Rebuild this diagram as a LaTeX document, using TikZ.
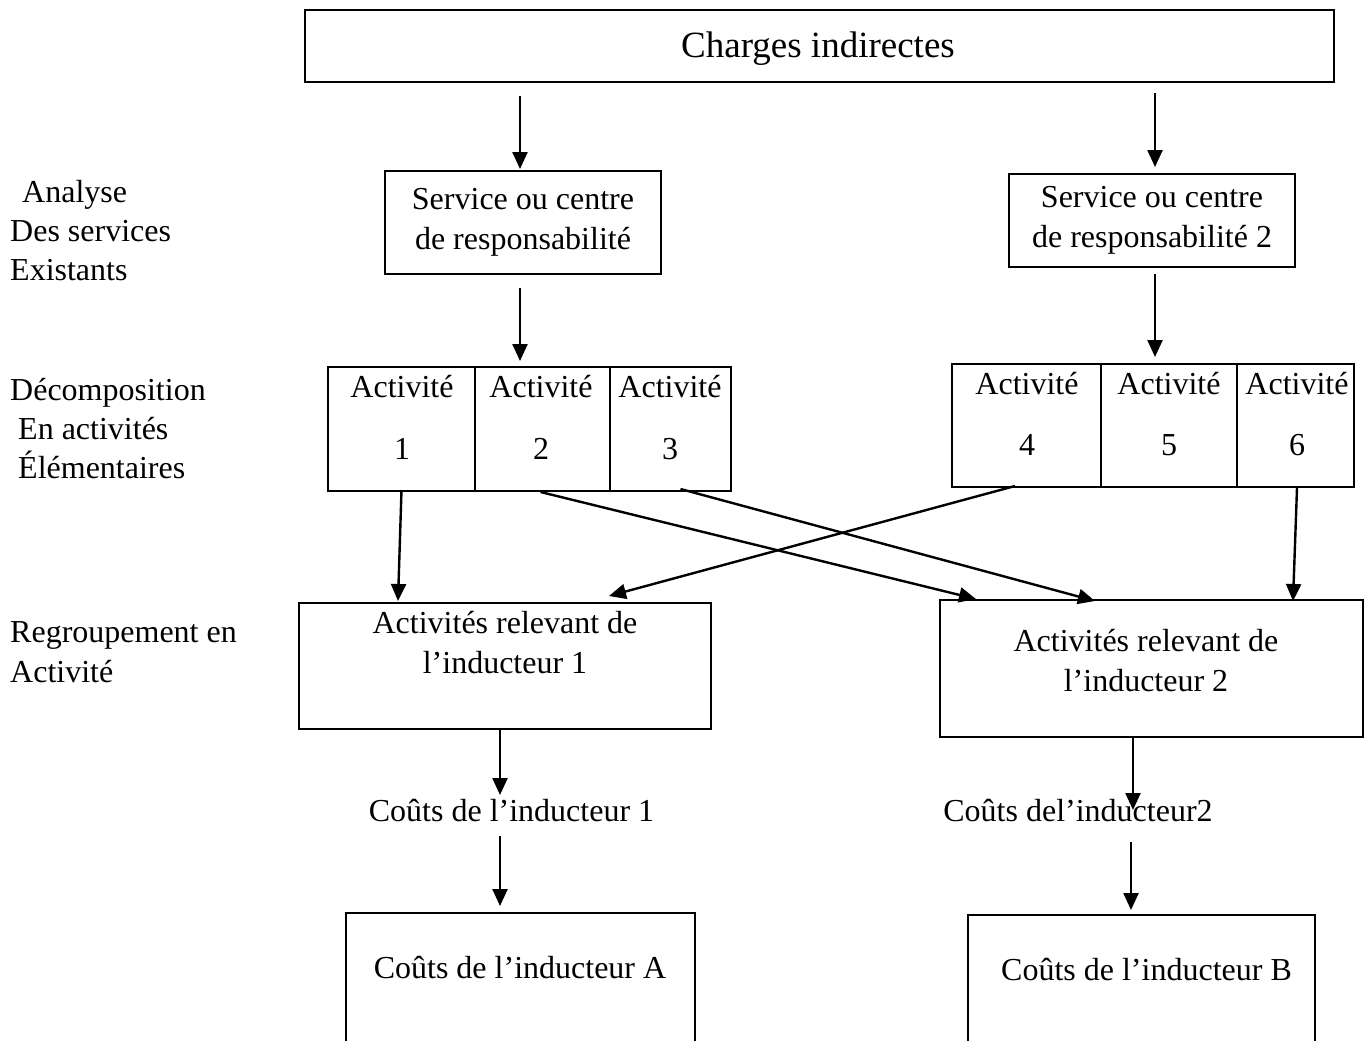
\documentclass[tikz,border=0pt]{standalone}
\usepackage{fontspec}
\setmainfont{Liberation Serif}
\usetikzlibrary{arrows.meta,calc}
\begin{document}
\begin{tikzpicture}[x=1pt,y=-1pt,
  box/.style={draw,line width=2pt,inner sep=0pt,align=center,
    font=\fontsize{32}{40}\selectfont},
  txt/.style={inner sep=0pt,align=center,font=\fontsize{32}{40}\selectfont},
  side/.style={inner sep=0pt,anchor=base west,font=\fontsize{32}{40}\selectfont},
  arr/.style={line width=2.4pt,-{Triangle[length=17pt,width=15pt]}},
]
\useasboundingbox (0,0) rectangle (1365,1041);

% --- row labels on the left
\node[side] (l1) at (22,202) {Analyse};
\node[side] (l2) at (10,241) {Des services};
\node[side] (l3) at (10,280) {Existants};
\node[side] (l4) at (10,400) {Décomposition};
\node[side] (l5) at (18,439) {En activités};
\node[side] (l6) at (18,478) {Élémentaires};
\node[side] (l7) at (10,642) {Regroupement en};
\node[side] (l8) at (10,682) {Activité};

% --- indirect costs
\node[box,minimum width=1029pt,minimum height=72pt] (top) at (819.5,46) {};
\node[inner sep=0pt,anchor=base,font=\fontsize{37}{44}\selectfont] (toptxt) at (818,58) {Charges indirectes};

% --- services
\node[box,minimum width=276pt,minimum height=103pt] (s1) at (523,222.5)
  {Service ou centre\\de responsabilité};
\node[box,minimum width=286pt,minimum height=93pt] (s2) at (1152,220.5)
  {Service ou centre\\de responsabilité 2};

% --- elementary activities
\node[box,minimum width=147pt,minimum height=124pt] (a1) at (401.5,429) {};
\node[box,minimum width=135pt,minimum height=124pt] (a2) at (542.5,429) {};
\node[box,minimum width=121pt,minimum height=124pt] (a3) at (670.5,429) {};
\node[box,minimum width=149pt,minimum height=123pt] (a4) at (1026.5,425.5) {};
\node[box,minimum width=136pt,minimum height=123pt] (a5) at (1169,425.5) {};
\node[box,minimum width=117pt,minimum height=123pt] (a6) at (1295.5,425.5) {};

\foreach \n/\x/\ya/\yb in {1/402/397/459, 2/541/397/459, 3/670/397/459,
                           4/1027/394/455, 5/1169/394/455, 6/1297/394/455}{
  \node[txt,anchor=base] (t\n) at (\x,\ya) {Activité};
  \node[txt,anchor=base] (n\n) at (\x,\yb) {\n};
}

% --- activities grouped by cost driver
\node[box,minimum width=412pt,minimum height=126pt] (r1) at (505,666) {};
\node[txt] (r1t) at (505,643) {Activités relevant de\\l’inducteur 1};
\node[box,minimum width=423pt,minimum height=137pt] (r2) at (1151.5,668.5) {};
\node[txt] (r2t) at (1146,661) {Activités relevant de\\l’inducteur 2};

% --- driver costs
\node[txt,anchor=base] (c1) at (511.5,821) {Coûts de l’inducteur 1};
\node[txt,anchor=base] (c2) at (1078,821) {Coûts del’inducteur2};

% --- final boxes, open at the bottom edge
\begin{scope}
  \clip (0,0) rectangle (1365,1041);
  \node[box,anchor=north,minimum width=349pt,minimum height=200pt] (b1) at (520.5,912) {};
  \node[box,anchor=north,minimum width=347pt,minimum height=200pt] (b2) at (1141.5,914) {};
\end{scope}
\node[txt,anchor=base] (b1t) at (520,978) {Coûts de l’inducteur A};
\node[txt,anchor=base] (b2t) at (1146.5,980) {Coûts de l’inducteur B};

% --- connectors
\draw[arr] ($(top.south -| s1.north)+(-3,13)$) -- ($(s1.north)+(-3,-1)$);
\draw[arr] ($(top.south -| s2.north)+(3,10)$) -- ($(s2.north)+(3,-6)$);
\draw[arr] ($(s1.south)+(-3,13)$) -- ($(a2.north -| s1.south)+(-3,-5)$);
\draw[arr] ($(s2.south)+(3,6)$) -- ($(a5.north -| s2.south)+(3,-6)$);

\draw[arr] ($(a1.south)+(0,-2)$) -- ($(r1.north west)+(100,-1)$);
\draw[arr] ($(a2.south)+(-2,0)$) -- ($(r2.north west)+(37,0)$);
\draw[arr] ($(a3.south)+(10,-3)$) -- ($(r2.north west)+(156,2)$);
\draw[arr] ($(a4.south)+(-11.5,-2)$) -- ($(r1.north west)+(311,-6)$);
\draw[arr] ($(a6.south)+(1.5,0)$) -- ($(r2.north west)+(354,2)$);

\draw[arr] ($(r1.south)+(-5,0)$) -- ($(r1.south)+(-5,65)$);
\draw[arr] ($(r2.south)+(-18.5,0)$) -- ($(r2.south)+(-18.5,72)$);
\draw[arr] ($(b1.north)+(-20.5,-76)$) -- ($(b1.north)+(-20.5,-6)$);
\draw[arr] ($(b2.north)+(-10.5,-72)$) -- ($(b2.north)+(-10.5,-4)$);
\end{tikzpicture}
\end{document}
